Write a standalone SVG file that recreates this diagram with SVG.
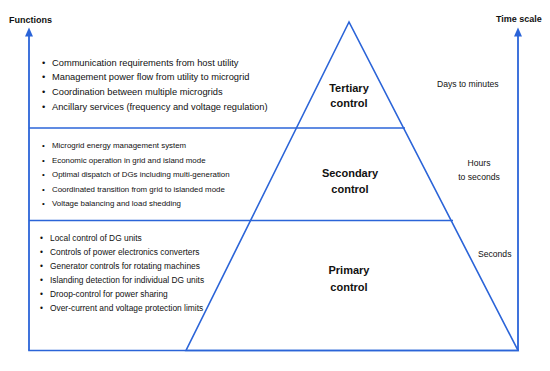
<svg xmlns="http://www.w3.org/2000/svg" width="550" height="371" viewBox="0 0 550 371">
<defs>
<style>
.ln{stroke:#2b64d8;stroke-width:1.6;fill:none}
.ax{stroke:#2b64d8;stroke-width:1.8;fill:none}
.ah{fill:#2b64d8}
.t{font-family:"Liberation Sans",Arial,sans-serif;fill:#111}
.hd{font-size:9px;font-weight:bold}
.bl{font-size:9.3px}
.bs{font-size:7.9px}
.bp{font-size:8.4px}
.lb{font-size:11px;font-weight:bold;text-anchor:middle}
.ts{font-size:8.6px}
</style>
</defs>
<rect width="550" height="371" fill="#ffffff"/>
<g id="connectors">
<line class="ax" x1="29" y1="350.5" x2="29" y2="35"/>
<polygon class="ah" points="29,27.5 25,36.5 33,36.5"/>
<line class="ax" x1="518" y1="350.5" x2="518" y2="35"/>
<polygon class="ah" points="518,27.5 514,36.5 522,36.5"/>
<line class="ln" x1="28.2" y1="350.5" x2="518.8" y2="350.5"/>
<line class="ln" x1="29" y1="128" x2="405" y2="128"/>
<line class="ln" x1="29" y1="220.5" x2="453" y2="220.5"/>
<polygon class="ln" points="349,22 186,350.5 518,350.5"/>
</g>
<g id="axis-labels">
<text class="t hd" x="9" y="23">Functions</text>
<text class="t hd" x="496" y="22">Time scale</text>
</g>
<g id="tertiary">
<text class="t lb" x="349" y="92">Tertiary</text>
<text class="t lb" x="349" y="107">control</text>
</g>
<g id="secondary">
<text class="t lb" x="350" y="177">Secondary</text>
<text class="t lb" x="350" y="193">control</text>
</g>
<g id="primary">
<text class="t lb" x="349" y="274">Primary</text>
<text class="t lb" x="349" y="291">control</text>
</g>
<g id="tertiary-functions" class="t bl">
<text x="42" y="65.5">•</text><text x="52" y="65.5">Communication requirements from host utility</text>
<text x="42" y="80">•</text><text x="52" y="80">Management power flow from utility to microgrid</text>
<text x="42" y="94.5">•</text><text x="52" y="94.5">Coordination between multiple microgrids</text>
<text x="42" y="109.5">•</text><text x="52" y="109.5">Ancillary services (frequency and voltage regulation)</text>
</g>
<g id="secondary-functions" class="t bs">
<text x="42" y="148">•</text><text x="52" y="148">Microgrid energy management system</text>
<text x="42" y="162.5">•</text><text x="52" y="162.5">Economic operation in grid and island mode</text>
<text x="42" y="177">•</text><text x="52" y="177">Optimal dispatch of DGs including multi-generation</text>
<text x="42" y="191.5">•</text><text x="52" y="191.5">Coordinated transition from grid to islanded mode</text>
<text x="42" y="205.5">•</text><text x="52" y="205.5">Voltage balancing and load shedding</text>
</g>
<g id="primary-functions" class="t bp">
<text x="40" y="241">•</text><text x="50" y="241">Local control of DG units</text>
<text x="40" y="255">•</text><text x="50" y="255">Controls of power electronics converters</text>
<text x="40" y="269">•</text><text x="50" y="269">Generator controls for rotating machines</text>
<text x="40" y="283">•</text><text x="50" y="283">Islanding detection for individual DG units</text>
<text x="40" y="297">•</text><text x="50" y="297">Droop-control for power sharing</text>
<text x="40" y="311">•</text><text x="50" y="311">Over-current and voltage protection limits</text>
</g>
<g id="timescales" class="t ts">
<text x="437" y="87">Days to minutes</text>
<text x="479" y="166" text-anchor="middle">Hours</text>
<text x="479" y="180" text-anchor="middle">to seconds</text>
<text x="478" y="257">Seconds</text>
</g>
</svg>
